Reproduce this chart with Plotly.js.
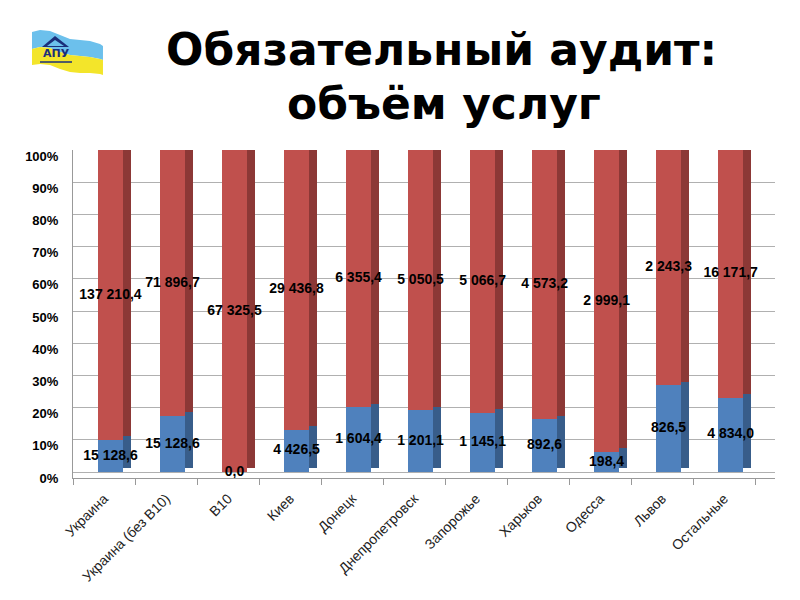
<!DOCTYPE html>
<html>
<head>
<meta charset="utf-8">
<script src="https://cdn.plot.ly/plotly-3.0.1.min.js"></script>
<style>html,body{margin:0;padding:0;background:#fff;}#chart{width:800px;height:600px;}</style>
</head>
<body>
<div id="chart"></div>
<script>
// ---- data ----
const categories = ["Украина", "Украина (без B10)", "B10", "Киев", "Донецк", "Днепропетровск", "Запорожье", "Харьков", "Одесса", "Львов", "Остальные"];
const blueValues = [15128.6, 15128.6, 0.0, 4426.5, 1604.4, 1201.1, 1145.1, 892.6, 198.4, 826.5, 4834.0];
const redValues = [137210.4, 71896.7, 67325.5, 29436.8, 6355.4, 5050.5, 5066.7, 4573.2, 2999.1, 2243.3, 16171.7];
const yTickVals = [0, 10, 20, 30, 40, 50, 60, 70, 80, 90, 100];
const yTickText = ["0%", "10%", "20%", "30%", "40%", "50%", "60%", "70%", "80%", "90%", "100%"];
const titleLines = ["Обязательный аудит:", "объём услуг"];

// ---- derived ----
const idx = categories.map((c, i) => i);
const bluePct = blueValues.map((b, i) => b / (b + redValues[i]) * 100);
const redPct = bluePct.map(p => 100 - p);
function fmt(v) {
  const s = v.toFixed(1).split('.');
  return s[0].replace(/\B(?=(\d{3})+(?!\d))/g, ' ') + ',' + s[1];
}

// geometry (in category units / percent units)
const frontOff = -0.097, frontW = 0.403;
const sideOff = frontOff + frontW, sideW = 0.13;
const depth = 2.2;

const cBlue = '#4F81BD', cBlueSide = '#385D8A';
const cRed = '#C0504D', cRedSide = '#8C3836', cRedTop = '#9E413E';

const rep = v => categories.map(() => v);
const labelFont = { family: 'Liberation Sans, Arial, sans-serif', size: 14, color: '#000', weight: 'bold' };

const traces = [
  { type: 'bar', x: idx, y: bluePct, base: rep(depth / 2), width: rep(sideW), offset: rep(sideOff),
    marker: { color: cBlueSide }, hoverinfo: 'skip', showlegend: false },
  { type: 'bar', x: idx, y: redPct, base: bluePct.map(p => p + depth / 2), width: rep(sideW), offset: rep(sideOff),
    marker: { color: cRedSide }, hoverinfo: 'skip', showlegend: false },
  { type: 'bar', x: idx, y: rep(depth), base: rep(100), width: rep(frontW), offset: rep(frontOff + 0.06),
    marker: { color: cRedTop }, hoverinfo: 'skip', showlegend: false },
  { type: 'bar', x: idx, y: bluePct, base: rep(0), width: rep(frontW), offset: rep(frontOff),
    marker: { color: cBlue }, name: 'blue', showlegend: false },
  { type: 'bar', x: idx, y: redPct, base: bluePct, width: rep(frontW), offset: rep(frontOff),
    marker: { color: cRed }, name: 'red', showlegend: false },
  { type: 'scatter', mode: 'text', x: idx.map(i => i + frontOff + frontW / 2), y: bluePct.map(p => p / 2),
    text: blueValues.map(fmt), textposition: 'middle center', textfont: labelFont,
    hoverinfo: 'skip', showlegend: false },
  { type: 'scatter', mode: 'text', x: idx.map(i => i + frontOff + frontW / 2), y: bluePct.map(p => (p + 100) / 2),
    text: redValues.map(fmt), textposition: 'middle center', textfont: labelFont,
    hoverinfo: 'skip', showlegend: false }
];

// logo helpers (pixel -> paper)
const L = 73, R = 775, T = 150, B = 478;
const px = x => (x - L) / (R - L);
const py = y => (B - y) / (B - T);
function path(pts) {
  return 'M' + pts.map(p => px(p[0]).toFixed(4) + ',' + py(p[1]).toFixed(4)).join(' L') + ' Z';
}
function curve(top, bot) {
  return path(top.concat(bot.slice().reverse()));
}
const flagTop = [[32,32],[40,30],[50,31],[60,35],[70,39],[80,40],[90,41],[100,44],[103,46]];
const flagMid = [[32,49],[40,47],[50,48],[60,52],[70,55],[80,56],[90,57],[100,59],[103,60]];
const flagBot = [[32,65],[40,64],[50,65],[60,69],[70,72],[80,73],[90,73],[100,74],[103,75]];

const shapes = [
  { type: 'path', xref: 'paper', yref: 'paper', path: curve(flagTop, flagMid), fillcolor: '#6CC0EC', line: { width: 0 } },
  { type: 'path', xref: 'paper', yref: 'paper', path: curve(flagMid, flagBot), fillcolor: '#F3E52A', line: { width: 0 } },
  { type: 'path', xref: 'paper', yref: 'paper', path: path([[42,47],[55,36],[69,47]]), fillcolor: '#1B2F7A', line: { width: 0 } },
  { type: 'path', xref: 'paper', yref: 'paper', path: path([[47,46],[55,40],[64,46]]), fillcolor: '#6CC0EC', line: { width: 0 } },
  { type: 'line', xref: 'paper', yref: 'paper', x0: px(40), x1: px(72), y0: py(62), y1: py(62), line: { color: '#1B2F7A', width: 1.5 } }
];

const titleFont = { family: 'DejaVu Sans, Verdana, sans-serif', size: 44, color: '#000', weight: 'bold' };
const annotations = [
  { xref: 'paper', yref: 'paper', x: px(56), y: py(53), text: '<b>АПУ</b>', showarrow: false,
    font: { family: 'DejaVu Sans, sans-serif', size: 11, color: '#1B2F7A' }, xanchor: 'center', yanchor: 'middle' },
  { xref: 'paper', yref: 'paper', x: px(441), y: py(49), text: titleLines[0], showarrow: false,
    font: titleFont, xanchor: 'center', yanchor: 'middle' },
  { xref: 'paper', yref: 'paper', x: px(444), y: py(103), text: titleLines[1], showarrow: false,
    font: titleFont, xanchor: 'center', yanchor: 'middle' }
];

const layout = {
  width: 800, height: 600,
  paper_bgcolor: '#fff', plot_bgcolor: '#fff',
  margin: { l: L, r: 800 - R, t: T, b: 600 - B },
  barmode: 'overlay',
  bargap: 0,
  xaxis: {
    range: [-0.5, 10.82],
    tickmode: 'array', tickvals: idx, ticktext: categories,
    tickangle: -45, ticks: '',
    tickfont: { family: 'Liberation Sans, Arial, sans-serif', size: 14, color: '#222' },
    ticklabelstandoff: 6,
    showgrid: false, zeroline: false,
    showline: true, linecolor: '#999', linewidth: 1,
    minor: { tick0: -0.5, dtick: 1, ticks: 'outside', ticklen: 6, tickcolor: '#999', showgrid: false },
    fixedrange: true
  },
  yaxis: {
    range: [-1.86, 100],
    tickmode: 'array', tickvals: yTickVals, ticktext: yTickText,
    tickfont: { family: 'Liberation Sans, Arial, sans-serif', size: 13, color: '#000', weight: 'bold' },
    ticklabelshift: 6,
    ticks: 'outside', ticklen: 11, tickcolor: 'rgba(0,0,0,0)',
    showgrid: true, gridcolor: '#B0B0B0', gridwidth: 1,
    zeroline: false, showline: true, linecolor: '#999', linewidth: 1,
    fixedrange: true
  },
  shapes: shapes,
  annotations: annotations,
  showlegend: false
};

Plotly.newPlot('chart', traces, layout, { displayModeBar: false, staticPlot: true });
</script>
</body>
</html>
